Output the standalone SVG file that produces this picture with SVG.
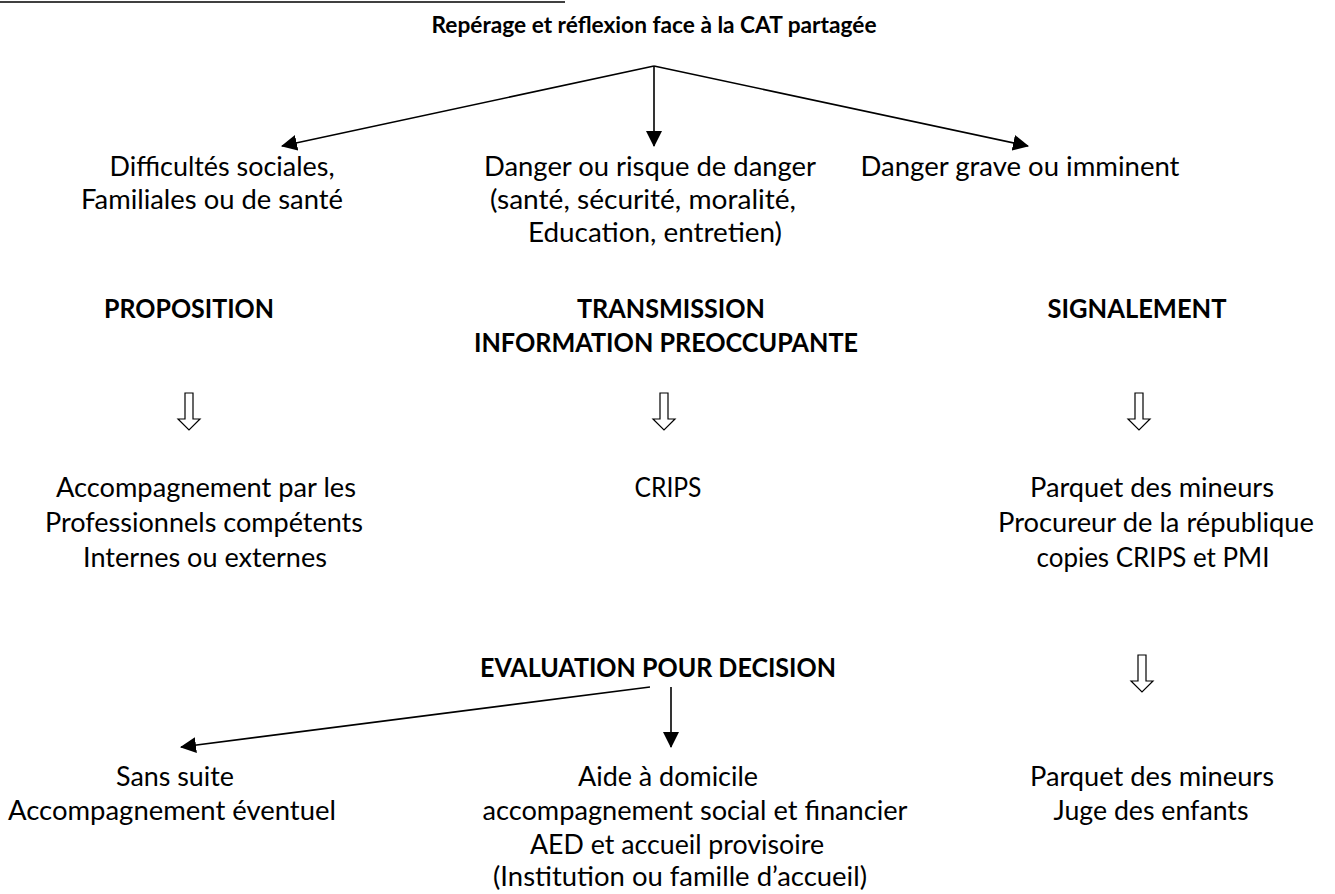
<svg xmlns="http://www.w3.org/2000/svg" width="1335" height="894" viewBox="0 0 1335 894">
<defs>
<style>
text{font-family:Lato,"Open Sans","Liberation Sans",sans-serif;font-size:26px;fill:#000;text-anchor:middle}
.b{font-weight:bold}
.t{font-size:23px}
.c{stroke:#000;stroke-width:1.6;fill:none}
.h{stroke:#000;stroke-width:1.2;fill:#fff}
</style>
<marker id="ah" markerUnits="userSpaceOnUse" markerWidth="16" markerHeight="16" refX="15" refY="8" orient="auto">
<path d="M0,0 L16,8 L0,16 z" fill="#000"/>
</marker>
<path id="hollow" d="M-4,0 H4 V26 H11 L0,37 L-11,26 H-4 Z"/>
</defs>
<rect width="1335" height="894" fill="#fff"/>
<line x1="0" y1="2" x2="565" y2="2" stroke="#000" stroke-width="1.6"/>

<g id="title"><text class="b t" x="654" y="33" textLength="445" lengthAdjust="spacingAndGlyphs">Repérage et réflexion face à la CAT partagée</text></g>

<g id="connectors">
<line class="c" x1="654" y1="66" x2="282" y2="146" marker-end="url(#ah)"/>
<line class="c" x1="654" y1="66" x2="654" y2="146" marker-end="url(#ah)"/>
<line class="c" x1="654" y1="66" x2="1028" y2="146" marker-end="url(#ah)"/>
<line class="c" x1="650" y1="687" x2="181" y2="747" marker-end="url(#ah)"/>
<line class="c" x1="671" y1="687" x2="671" y2="747" marker-end="url(#ah)"/>
<use href="#hollow" class="h" x="189" y="393"/>
<use href="#hollow" class="h" x="664" y="393"/>
<use href="#hollow" class="h" x="1139" y="393"/>
<use href="#hollow" class="h" x="1142" y="655"/>
</g>

<g id="n-difficultes">
<text x="222" y="176" textLength="225" lengthAdjust="spacingAndGlyphs">Difficultés sociales,</text>
<text x="212" y="209" textLength="262" lengthAdjust="spacingAndGlyphs">Familiales ou de santé</text>
</g>
<g id="n-danger">
<text x="650" y="176" textLength="332" lengthAdjust="spacingAndGlyphs">Danger ou risque de danger</text>
<text x="643" y="209" textLength="306" lengthAdjust="spacingAndGlyphs">(santé, sécurité, moralité,</text>
<text x="655" y="242" textLength="254" lengthAdjust="spacingAndGlyphs">Education, entretien)</text>
</g>
<g id="n-grave">
<text x="1020" y="176" textLength="319" lengthAdjust="spacingAndGlyphs">Danger grave ou imminent</text>
</g>

<g id="n-proposition"><text class="b" x="189" y="318" textLength="170" lengthAdjust="spacingAndGlyphs">PROPOSITION</text></g>
<g id="n-transmission">
<text class="b" x="671" y="318" textLength="188" lengthAdjust="spacingAndGlyphs">TRANSMISSION</text>
<text class="b" x="666" y="352" textLength="384" lengthAdjust="spacingAndGlyphs">INFORMATION PREOCCUPANTE</text>
</g>
<g id="n-signalement"><text class="b" x="1137" y="318" textLength="179" lengthAdjust="spacingAndGlyphs">SIGNALEMENT</text></g>

<g id="n-accompagnement">
<text x="206" y="497" textLength="300" lengthAdjust="spacingAndGlyphs">Accompagnement par les</text>
<text x="204" y="532" textLength="318" lengthAdjust="spacingAndGlyphs">Professionnels compétents</text>
<text x="205" y="567" textLength="244" lengthAdjust="spacingAndGlyphs">Internes ou externes</text>
</g>
<g id="n-crips"><text x="668" y="497" textLength="67" lengthAdjust="spacingAndGlyphs">CRIPS</text></g>
<g id="n-parquet1">
<text x="1152" y="497" textLength="244" lengthAdjust="spacingAndGlyphs">Parquet des mineurs</text>
<text x="1156" y="532" textLength="316" lengthAdjust="spacingAndGlyphs">Procureur de la république</text>
<text x="1153" y="567" textLength="233" lengthAdjust="spacingAndGlyphs">copies CRIPS et PMI</text>
</g>

<g id="n-evaluation"><text class="b" x="658" y="677" textLength="356" lengthAdjust="spacingAndGlyphs">EVALUATION POUR DECISION</text></g>

<g id="n-sans-suite">
<text x="175" y="786" textLength="118" lengthAdjust="spacingAndGlyphs">Sans suite</text>
<text x="172" y="820" textLength="328" lengthAdjust="spacingAndGlyphs">Accompagnement éventuel</text>
</g>
<g id="n-aide">
<text x="668" y="786" textLength="180" lengthAdjust="spacingAndGlyphs">Aide à domicile</text>
<text x="695" y="820" textLength="425" lengthAdjust="spacingAndGlyphs">accompagnement social et financier</text>
<text x="677" y="854" textLength="294" lengthAdjust="spacingAndGlyphs">AED et accueil provisoire</text>
<text x="680" y="886" textLength="374" lengthAdjust="spacingAndGlyphs">(Institution ou famille d’accueil)</text>
</g>
<g id="n-parquet2">
<text x="1152" y="786" textLength="244" lengthAdjust="spacingAndGlyphs">Parquet des mineurs</text>
<text x="1151" y="820" textLength="195" lengthAdjust="spacingAndGlyphs">Juge des enfants</text>
</g>
</svg>
